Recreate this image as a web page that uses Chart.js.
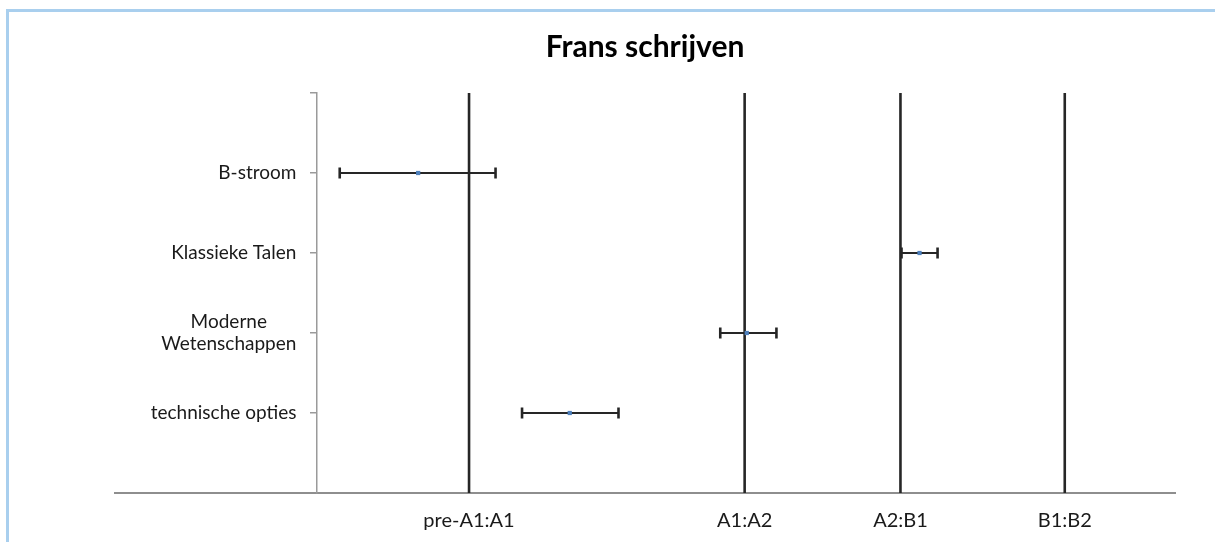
<!DOCTYPE html>
<html>
<head>
<meta charset="utf-8">
<script src="https://cdn.jsdelivr.net/npm/chart.js@4.4.1/dist/chart.umd.min.js"></script>
<style>
  html, body { margin: 0; padding: 0; background: #ffffff; }
  body { width: 1215px; height: 542px; position: relative; overflow: hidden; }
  #frame { position: absolute; left: 6px; top: 9px; right: 0; bottom: 0;
           border-top: 3px solid #a9cfee; border-left: 3px solid #a9cfee; }
  #chart { position: absolute; left: 0; top: 0; }
</style>
</head>
<body>
<div id="frame"></div>
<canvas id="chart" width="1215" height="542"></canvas>
<script>
// Groups (top to bottom) and their score interval on the writing scale
const groups = ['B-stroom', 'Klassieke Talen', ['Moderne', 'Wetenschappen'], 'technische opties'];
const groupY = [4, 3, 2, 1];
const means = [28.6, 75.9, 59.6, 42.9];
const lower = [21.2, 74.2, 57.1, 38.4];
const upper = [35.9, 77.6, 62.4, 47.5];

// CEFR cut-off scores shown as vertical reference lines
const levelLabels = ['pre-A1:A1', 'A1:A2', 'A2:B1', 'B1:B2'];
const levelCuts = [33.4, 59.4, 74.1, 89.6];

// Where the category axis crosses the score axis
const axisCross = 19;

const FONT = 'Lato, "Open Sans", "DejaVu Sans", sans-serif';
const TEXT = '#1a1a1a';

const cutDatasets = levelCuts.map(function (v, i) {
  return {
    type: 'line',
    label: levelLabels[i],
    data: [{ x: v, y: 0 }, { x: v, y: 5 }],
    borderColor: '#262626',
    borderWidth: 2.6,
    pointRadius: 0,
    fill: false,
    order: 1
  };
});

const pointDataset = {
  type: 'scatter',
  label: 'gemiddelde',
  data: means.map(function (m, i) { return { x: m, y: groupY[i] }; }),
  pointStyle: 'rect',
  pointRadius: 3,
  backgroundColor: '#4f81bd',
  borderColor: '#4f81bd',
  borderWidth: 0,
  order: 0
};

// Horizontal interval bars with end caps, drawn under the markers
const errorBars = {
  id: 'errorBars',
  beforeDatasetsDraw: function (chart) {
    const ctx = chart.ctx;
    const xs = chart.scales.x, ys = chart.scales.y;
    ctx.save();
    ctx.strokeStyle = '#262626';
    ctx.lineCap = 'butt';
    for (let i = 0; i < means.length; i++) {
      const y = ys.getPixelForValue(groupY[i]);
      const x0 = xs.getPixelForValue(lower[i]);
      const x1 = xs.getPixelForValue(upper[i]);
      ctx.lineWidth = 2.2;
      ctx.beginPath();
      ctx.moveTo(x0, y); ctx.lineTo(x1, y);
      ctx.stroke();
      ctx.lineWidth = 2.6;
      ctx.beginPath();
      ctx.moveTo(x0, y - 5.5); ctx.lineTo(x0, y + 5.5);
      ctx.moveTo(x1, y - 5.5); ctx.lineTo(x1, y + 5.5);
      ctx.stroke();
    }
    ctx.restore();
  }
};

// Category names left of the crossing axis: right-aligned block,
// lines of a wrapped name centred on each other
const categoryLabels = {
  id: 'categoryLabels',
  afterDraw: function (chart) {
    const ctx = chart.ctx;
    const xs = chart.scales.x, ys = chart.scales.y;
    const right = xs.getPixelForValue(axisCross) - 20;
    const size = 19, lineH = 22;
    ctx.save();
    ctx.font = size + 'px ' + FONT;
    ctx.fillStyle = TEXT;
    ctx.textAlign = 'center';
    ctx.textBaseline = 'middle';
    groups.forEach(function (g, i) {
      const lines = Array.isArray(g) ? g : [g];
      const widest = Math.max.apply(null, lines.map(function (l) { return ctx.measureText(l).width; }));
      const cx = right - widest / 2;
      const cy = ys.getPixelForValue(groupY[i]);
      lines.forEach(function (l, k) {
        ctx.fillText(l, cx, cy + (k - (lines.length - 1) / 2) * lineH);
      });
    });
    ctx.restore();
  }
};

new Chart(document.getElementById('chart'), {
  data: { datasets: cutDatasets.concat([pointDataset]) },
  plugins: [errorBars, categoryLabels],
  options: {
    responsive: false,
    devicePixelRatio: 1,
    animation: false,
    layout: { padding: { left: 115, right: 40, top: 0, bottom: -7 } },
    plugins: {
      legend: { display: false },
      tooltip: { enabled: false },
      title: {
        display: true,
        text: 'Frans schrijven',
        color: '#000000',
        font: { family: FONT, size: 30, weight: 'bold' },
        padding: { top: 29.5, bottom: 27.5 }
      }
    },
    scales: {
      x: {
        type: 'linear',
        position: 'bottom',
        min: 0,
        max: 100,
        afterBuildTicks: function (scale) {
          scale.ticks = levelCuts.map(function (v) { return { value: v }; });
        },
        ticks: {
          autoSkip: false,
          maxRotation: 0,
          padding: 16,
          color: TEXT,
          font: { family: FONT, size: 20 },
          callback: function (value) {
            const i = levelCuts.indexOf(value);
            return i >= 0 ? levelLabels[i] : '';
          }
        },
        grid: { display: true, drawOnChartArea: false, drawTicks: false },
        border: { display: true, color: '#8e8e8e', width: 2 }
      },
      y: {
        type: 'linear',
        position: { x: axisCross },
        min: 0,
        max: 5,
        afterBuildTicks: function (scale) {
          scale.ticks = [0, 1, 2, 3, 4, 5].map(function (v) { return { value: v }; });
        },
        ticks: { display: false },
        grid: { display: true, drawOnChartArea: false, drawTicks: true, tickLength: 6, color: '#9a9a9a', lineWidth: 1.5 },
        border: { display: true, color: '#9a9a9a', width: 1.5 }
      }
    }
  }
});
</script>
</body>
</html>
